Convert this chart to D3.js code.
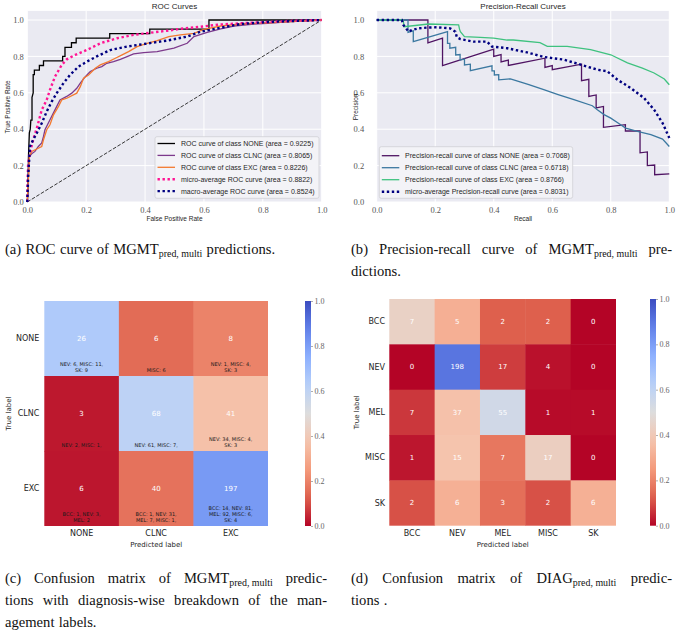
<!DOCTYPE html>
<html>
<head>
<meta charset="utf-8">
<script src="https://cdn.jsdelivr.net/npm/d3@7"></script>
<style>
  body { margin: 0; background: #fff; }
</style>
</head>
<body>
<div id="fig"></div>
<script>
// ---- data ----
var axisTicks = [0, 0.2, 0.4, 0.6, 0.8, 1.0];

// ROC curves, [fpr, tpr]
var rocNone = [[0,0],[0.002,0.05],[0.004,0.25],[0.007,0.38],[0.01,0.4],[0.012,0.45],[0.016,0.45],[0.016,0.575],[0.02,0.6],[0.02,0.7],[0.024,0.7],[0.024,0.725],[0.041,0.725],[0.041,0.75],[0.055,0.75],[0.055,0.775],[0.12,0.775],[0.12,0.8],[0.128,0.8],[0.128,0.85],[0.15,0.85],[0.15,0.875],[0.166,0.875],[0.166,0.9],[0.28,0.9],[0.28,0.925],[0.416,0.925],[0.416,0.95],[0.617,0.95],[0.617,1],[1,1]];
var rocClnc = [[0,0],[0.002,0.086],[0.005,0.196],[0.007,0.25],[0.015,0.265],[0.026,0.278],[0.0375,0.305],[0.049,0.324],[0.055,0.36],[0.06,0.397],[0.077,0.452],[0.094,0.506],[0.111,0.561],[0.134,0.58],[0.151,0.598],[0.168,0.625],[0.18,0.653],[0.197,0.689],[0.214,0.717],[0.236,0.735],[0.253,0.744],[0.27,0.762],[0.293,0.771],[0.316,0.784],[0.339,0.799],[0.361,0.814],[0.395,0.821],[0.441,0.826],[0.498,0.845],[0.543,0.872],[0.566,0.909],[0.611,0.932],[0.657,0.951],[0.702,0.967],[0.77,0.978],[0.816,0.982],[0.895,0.991],[1,1]];
var rocExc = [[0,0],[0.002,0.086],[0.005,0.159],[0.007,0.25],[0.015,0.278],[0.032,0.291],[0.049,0.305],[0.055,0.342],[0.066,0.397],[0.077,0.424],[0.089,0.479],[0.106,0.525],[0.117,0.561],[0.134,0.57],[0.168,0.598],[0.18,0.634],[0.191,0.68],[0.208,0.698],[0.231,0.735],[0.248,0.753],[0.276,0.771],[0.299,0.79],[0.322,0.808],[0.344,0.826],[0.373,0.854],[0.407,0.872],[0.441,0.887],[0.481,0.909],[0.52,0.918],[0.566,0.927],[0.6,0.949],[0.657,0.967],[0.725,0.978],[0.816,0.985],[1,1]];
var rocMicro = [[0,0],[0.001,0.12],[0.003,0.214],[0.009,0.27],[0.02,0.342],[0.034,0.415],[0.049,0.506],[0.066,0.561],[0.077,0.616],[0.094,0.689],[0.117,0.753],[0.134,0.784],[0.163,0.808],[0.202,0.835],[0.248,0.872],[0.305,0.9],[0.361,0.918],[0.418,0.93],[0.475,0.941],[0.532,0.954],[0.589,0.963],[0.645,0.974],[0.725,0.982],[0.816,0.989],[0.907,0.996],[1,1]];
var rocMacro = [[0,0],[0.003,0.14],[0.009,0.305],[0.02,0.342],[0.032,0.378],[0.049,0.433],[0.066,0.497],[0.083,0.552],[0.1,0.598],[0.123,0.653],[0.145,0.698],[0.174,0.744],[0.202,0.771],[0.236,0.8],[0.282,0.835],[0.339,0.854],[0.395,0.868],[0.475,0.887],[0.543,0.909],[0.589,0.936],[0.645,0.954],[0.725,0.978],[0.816,0.989],[1,1]];
var rocLabels = ['ROC curve of class NONE (area = 0.9225)', 'ROC curve of class CLNC (area = 0.8065)', 'ROC curve of class EXC (area = 0.8226)', 'micro-average ROC curve (area = 0.8822)', 'macro-average ROC curve (area = 0.8524)'];

// precision-recall curves, [recall, precision]
var prNone = [[0,1],[0.175,1],[0.175,0.875],[0.225,0.9],[0.225,0.75],[0.4,0.84],[0.4,0.8],[0.425,0.81],[0.425,0.77],[0.45,0.78],[0.45,0.75],[0.575,0.79],[0.575,0.74],[0.6,0.75],[0.6,0.727],[0.7,0.757],[0.7,0.667],[0.725,0.674],[0.725,0.58],[0.75,0.588],[0.75,0.517],[0.775,0.525],[0.775,0.41],[0.85,0.425],[0.85,0.39],[0.9,0.39],[0.9,0.27],[0.925,0.275],[0.925,0.2],[0.95,0.203],[0.95,0.15],[1,0.155]];
var prClnc = [[0,1],[0.107,1],[0.107,0.932],[0.125,0.94],[0.125,0.881],[0.242,0.936],[0.242,0.872],[0.25,0.872],[0.25,0.845],[0.27,0.85],[0.27,0.808],[0.285,0.81],[0.285,0.78],[0.3,0.785],[0.3,0.753],[0.32,0.757],[0.32,0.722],[0.394,0.748],[0.394,0.72],[0.402,0.72],[0.402,0.698],[0.417,0.7],[0.417,0.671],[0.457,0.677],[0.49,0.66],[0.52,0.645],[0.571,0.617],[0.62,0.59],[0.674,0.562],[0.737,0.529],[0.754,0.507],[0.777,0.48],[0.8,0.461],[0.825,0.434],[0.851,0.406],[0.891,0.388],[0.937,0.37],[0.977,0.346],[1,0.305]];
var prExc = [[0,1],[0.09,1],[0.094,0.963],[0.177,0.978],[0.28,0.973],[0.283,0.95],[0.286,0.936],[0.3,0.909],[0.354,0.905],[0.4,0.9],[0.446,0.89],[0.467,0.89],[0.558,0.876],[0.583,0.855],[0.651,0.855],[0.731,0.837],[0.8,0.809],[0.857,0.764],[0.908,0.736],[0.948,0.709],[0.983,0.676],[1,0.644]];
var prMicro = [[0,1],[0.086,1],[0.091,0.973],[0.109,0.936],[0.12,0.945],[0.143,0.954],[0.171,0.958],[0.206,0.96],[0.251,0.954],[0.269,0.936],[0.274,0.905],[0.286,0.895],[0.331,0.881],[0.377,0.881],[0.394,0.854],[0.446,0.845],[0.457,0.841],[0.514,0.822],[0.571,0.797],[0.64,0.782],[0.686,0.76],[0.754,0.727],[0.788,0.718],[0.823,0.672],[0.868,0.626],[0.914,0.571],[0.948,0.507],[0.977,0.434],[1,0.352]];
var prLabels = ['Precision-recall curve of class NONE (area = 0.7068)', 'Precision-recall curve of class CLNC (area = 0.6718)', 'Precision-recall curve of class EXC (area = 0.8766)', 'micro-average Precision-recall curve (area = 0.8031)'];

// confusion matrices
var mgmtLabels = ['NONE', 'CLNC', 'EXC'];
var mgmtCounts = [[26, 6, 8], [3, 68, 41], [6, 40, 197]];
var mgmtBreakdown = [
  [['NEV: 6, MISC: 11,', 'SK: 9'], ['MISC: 6'], ['NEV: 1, MISC: 4,', 'SK: 3']],
  [['NEV: 2, MISC: 1,'], ['NEV: 61, MISC: 7,'], ['NEV: 34, MISC: 4,', 'SK: 3']],
  [['BCC: 1, NEV: 3,', 'MEL: 2'], ['BCC: 1, NEV: 31,', 'MEL: 7, MISC: 1,'], ['BCC: 14, NEV: 81,', 'MEL: 92, MISC: 6,', 'SK: 4']]
];
var diagLabels = ['BCC', 'NEV', 'MEL', 'MISC', 'SK'];
var diagCounts = [[7, 5, 2, 2, 0], [0, 198, 17, 4, 0], [7, 37, 55, 1, 1], [1, 15, 7, 17, 0], [2, 6, 3, 2, 6]];
var cbarTicks = [0, 0.2, 0.4, 0.6, 0.8, 1.0];

// captions
var capA = [{ text: '(a) ROC curve of MGMT_{pred, multi} predictions.', justify: false }];
var capB = [{ text: '(b) Precision-recall curve of MGMT_{pred, multi} pre-', justify: true }, { text: 'dictions.', justify: false }];
var capC = [{ text: '(c) Confusion matrix of MGMT_{pred, multi} predic-', justify: true }, { text: 'tions with diagnosis-wise breakdown of the man-', justify: true }, { text: 'agement labels.', justify: false }];
var capD = [{ text: '(d) Confusion matrix of DIAG_{pred, multi} predic-', justify: true }, { text: 'tions .', justify: false }];

// ---- drawing ----
var sans = '"Liberation Sans", Arial, sans-serif';
var serif = '"Liberation Serif", "Times New Roman", serif';
var dejavu = '"DejaVu Sans", sans-serif';

var svg = d3.select('#fig').append('svg')
  .attr('width', 680)
  .attr('height', 640);

// coolwarm colormap (Moreland), used reversed
var cwStops = ['#3b4cc0', '#6282ea', '#8db0fe', '#b8d0f9', '#dddddd', '#f5c4ad', '#f49a7b', '#de604d', '#b40426'];
var coolwarm = d3.scaleLinear()
  .domain(d3.range(cwStops.length).map(function(i) { return i / (cwStops.length - 1); }))
  .range(cwStops)
  .interpolate(d3.interpolateRgb);

function curvePanel(o) {
  var g = svg.append('g');
  var x = d3.scaleLinear().domain([0, 1]).range([o.x0, o.x1]);
  var y = d3.scaleLinear().domain([0, 1]).range([202, 20]);

  g.append('rect')
    .attr('x', x(0)).attr('y', y(1.05))
    .attr('width', x(1) - x(0)).attr('height', y(0) - y(1.05))
    .attr('fill', '#eaeaf2');

  // grid
  g.selectAll('.vg').data(axisTicks).enter().append('line')
    .attr('x1', function(d) { return x(d); }).attr('x2', function(d) { return x(d); })
    .attr('y1', y(1.05)).attr('y2', y(0))
    .attr('stroke', '#fff').attr('stroke-width', 1);
  g.selectAll('.hg').data(axisTicks).enter().append('line')
    .attr('y1', function(d) { return y(d); }).attr('y2', function(d) { return y(d); })
    .attr('x1', x(0)).attr('x2', x(1))
    .attr('stroke', '#fff').attr('stroke-width', 1);

  var xa = g.append('g').attr('transform', 'translate(0,' + y(0) + ')')
    .call(d3.axisBottom(x).tickValues(axisTicks).tickSize(0).tickPadding(5).tickFormat(d3.format('.1f')));
  var ya = g.append('g').attr('transform', 'translate(' + x(0) + ',0)')
    .call(d3.axisLeft(y).tickValues(axisTicks).tickSize(0).tickPadding(o.yPad).tickFormat(d3.format('.1f')));
  [xa, ya].forEach(function(a) {
    a.select('.domain').remove();
    a.attr('font-family', serif);
    a.selectAll('text').attr('font-family', serif).attr('font-size', 8.5).attr('fill', '#555');
  });

  if (o.diagonal) {
    g.append('line')
      .attr('x1', x(0)).attr('y1', y(0)).attr('x2', x(1)).attr('y2', y(1))
      .attr('stroke', '#222').attr('stroke-width', 0.9).attr('stroke-dasharray', '3.7,1.6');
  }

  var line = d3.line().x(function(d) { return x(d[0]); }).y(function(d) { return y(d[1]); });
  o.series.forEach(function(s) {
    g.append('path').datum(s.data)
      .attr('d', line)
      .attr('fill', 'none')
      .attr('stroke', s.color)
      .attr('stroke-width', s.dotted ? 2.4 : 1.3)
      .attr('stroke-dasharray', s.dotted ? '2.4,2.6' : null);
  });

  g.append('text')
    .attr('x', (x(0) + x(1)) / 2).attr('y', 9)
    .attr('text-anchor', 'middle')
    .attr('font-family', sans).attr('font-size', 8).attr('fill', '#262626')
    .text(o.title);
  g.append('text')
    .attr('x', (x(0) + x(1)) / 2).attr('y', 221)
    .attr('text-anchor', 'middle')
    .attr('font-family', sans).attr('font-size', 6.5).attr('fill', '#262626')
    .text(o.xLabel);
  g.append('text')
    .attr('transform', 'translate(' + o.yLabelX + ',107) rotate(-90)')
    .attr('text-anchor', 'middle').attr('dy', '0.35em')
    .attr('font-family', sans).attr('font-size', 6.5).attr('fill', '#262626')
    .text(o.yLabel);

  // legend
  var L = o.legend;
  g.append('rect')
    .attr('x', L.x).attr('y', L.y).attr('width', L.w).attr('height', L.h)
    .attr('rx', 2)
    .attr('fill', '#f3f3f7').attr('stroke', '#cfcfd4').attr('stroke-width', 0.8);
  o.series.forEach(function(s, i) {
    var yy = L.row0 + i * L.step;
    g.append('line')
      .attr('x1', L.x + 2.5).attr('x2', L.x + 20).attr('y1', yy).attr('y2', yy)
      .attr('stroke', s.color)
      .attr('stroke-width', s.dotted ? 2.4 : 1.3)
      .attr('stroke-dasharray', s.dotted ? '2.4,2.6' : null);
    g.append('text')
      .attr('x', L.textX).attr('y', yy).attr('dy', '0.35em')
      .attr('font-family', sans).attr('font-size', 7).attr('fill', '#262626')
      .text(s.label);
  });
}

curvePanel({
  x0: 27.3, x1: 321.7, yPad: 3.5, yLabelX: 8,
  title: 'ROC Curves', xLabel: 'False Positive Rate', yLabel: 'True Positive Rate',
  diagonal: true,
  series: [
    { data: rocNone, color: '#000000', label: rocLabels[0] },
    { data: rocClnc, color: '#7d3a8c', label: rocLabels[1] },
    { data: rocExc, color: '#f37a2f', label: rocLabels[2] },
    { data: rocMicro, color: '#ff1493', dotted: true, label: rocLabels[3] },
    { data: rocMacro, color: '#000080', dotted: true, label: rocLabels[4] }
  ],
  legend: { x: 155, y: 136.7, w: 164, h: 61.6, row0: 143.5, step: 11.9, textX: 181 }
});

curvePanel({
  x0: 376.7, x1: 669.3, yPad: 12.5, yLabelX: 356,
  title: 'Precision-Recall Curves', xLabel: 'Recall', yLabel: 'Precision',
  diagonal: false,
  series: [
    { data: prNone, color: '#4f1463', label: prLabels[0] },
    { data: prClnc, color: '#3b78a0', label: prLabels[1] },
    { data: prExc, color: '#3fc27f', label: prLabels[2] },
    { data: prMicro, color: '#000080', dotted: true, label: prLabels[3] }
  ],
  legend: { x: 379.3, y: 146.7, w: 193.4, h: 51.6, row0: 155.7, step: 12, textX: 405 }
});

function heatmap(o) {
  var g = svg.append('g');
  var x = d3.scaleBand().domain(o.labels).range([o.x0, o.x1]);
  var y = d3.scaleBand().domain(o.labels).range([o.y0, o.y1]);

  o.counts.forEach(function(row, i) {
    var total = d3.sum(row);
    row.forEach(function(v, j) {
      var cx = x(o.labels[j]), cy = y(o.labels[i]);
      g.append('rect')
        .attr('x', cx).attr('y', cy)
        .attr('width', x.bandwidth() + (j < row.length - 1 ? 0.5 : 0))
        .attr('height', y.bandwidth() + (i < o.counts.length - 1 ? 0.5 : 0))
        .attr('fill', coolwarm(1 - v / total));
      g.append('text')
        .attr('x', cx + x.bandwidth() / 2).attr('y', cy + y.bandwidth() / 2)
        .attr('dy', '0.35em').attr('text-anchor', 'middle')
        .attr('font-family', dejavu).attr('font-size', 7).attr('fill', '#fff')
        .text(v);
      if (o.breakdown) {
        var lines = o.breakdown[i][j];
        lines.forEach(function(t, k) {
          g.append('text')
            .attr('x', cx + x.bandwidth() / 2)
            .attr('y', cy + y.bandwidth() - 3.6 - (lines.length - 1 - k) * 6.2)
            .attr('text-anchor', 'middle')
            .attr('font-family', dejavu).attr('font-size', 5).attr('fill', '#1a1a1a')
            .text(t);
        });
      }
    });
  });

  var xa = g.append('g').attr('transform', 'translate(0,' + o.y1 + ')')
    .call(d3.axisBottom(x).tickSize(0).tickPadding(4.5));
  var ya = g.append('g').attr('transform', 'translate(' + o.x0 + ',0)')
    .call(d3.axisLeft(y).tickSize(0).tickPadding(o.yPad));
  [xa, ya].forEach(function(a) {
    a.select('.domain').remove();
    a.selectAll('text').attr('font-family', dejavu).attr('font-size', 8).attr('fill', '#262626');
  });

  g.append('text')
    .attr('x', (o.x0 + o.x1) / 2).attr('y', 547)
    .attr('text-anchor', 'middle')
    .attr('font-family', dejavu).attr('font-size', 7).attr('fill', '#262626')
    .text('Predicted label');
  g.append('text')
    .attr('transform', 'translate(' + o.yLabelX + ',' + ((o.y0 + o.y1) / 2) + ') rotate(-90)')
    .attr('text-anchor', 'middle').attr('dy', '0.35em')
    .attr('font-family', dejavu).attr('font-size', 7).attr('fill', '#262626')
    .text('True label');

  // colorbar
  var gradId = 'cb' + Math.round(o.cbX);
  var grad = svg.append('defs').append('linearGradient')
    .attr('id', gradId).attr('x1', 0).attr('x2', 0).attr('y1', 1).attr('y2', 0);
  d3.range(0, 1.0001, 0.05).forEach(function(t) {
    grad.append('stop').attr('offset', t).attr('stop-color', coolwarm(1 - t));
  });
  g.append('rect')
    .attr('x', o.cbX).attr('y', o.y0).attr('width', 6).attr('height', o.y1 - o.y0)
    .attr('fill', 'url(#' + gradId + ')');
  var cs = d3.scaleLinear().domain([0, 1]).range([o.y1, o.y0]);
  var ca = g.append('g').attr('transform', 'translate(' + (o.cbX + 6) + ',0)')
    .call(d3.axisRight(cs).tickValues(cbarTicks).tickSize(2).tickPadding(1.5).tickFormat(d3.format('.1f')));
  ca.select('.domain').remove();
  ca.selectAll('line').attr('stroke', '#777').attr('stroke-width', 0.6);
  ca.selectAll('text').attr('font-family', serif).attr('font-size', 8).attr('fill', '#666');
}

heatmap({
  labels: mgmtLabels, counts: mgmtCounts, breakdown: mgmtBreakdown,
  x0: 44.3, x1: 268, y0: 301, y1: 526, yPad: 5, yLabelX: 9, cbX: 305
});
heatmap({
  labels: diagLabels, counts: diagCounts, breakdown: null,
  x0: 389.3, x1: 616, y0: 299, y1: 525.7, yPad: 4.3, yLabelX: 357, cbX: 650
});

// captions, justified like the LaTeX source
var capSize = 14.6, capLead = 22;
function drawCaption(x0, width, y0, lines) {
  lines.forEach(function(line, k) {
    var y = y0 + k * capLead;
    var words = line.text.split(/ (?![^{]*\})/);
    var nodes = words.map(function(w) {
      var t = svg.append('text').attr('y', y)
        .attr('font-family', serif).attr('font-size', capSize).attr('fill', '#111');
      var m = w.match(/^(.*?)_\{(.*)\}(.*)$/);
      if (m) {
        t.append('tspan').text(m[1]);
        t.append('tspan').attr('font-size', capSize * 0.68).attr('dy', 3).text(m[2]);
        if (m[3]) t.append('tspan').attr('dy', -3).text(m[3]);
      } else {
        t.text(w);
      }
      return t;
    });
    var widths = nodes.map(function(n) { return n.node().getComputedTextLength(); });
    var gap = line.justify ? (width - d3.sum(widths)) / (nodes.length - 1) : capSize * 0.3;
    var xx = x0;
    nodes.forEach(function(n, i) {
      n.attr('x', xx);
      xx += widths[i] + gap;
    });
  });
}

drawCaption(5, 322, 254, capA);
drawCaption(351, 321, 254, capB);
drawCaption(5, 322, 583, capC);
drawCaption(351, 321, 583, capD);
</script>
</body>
</html>
